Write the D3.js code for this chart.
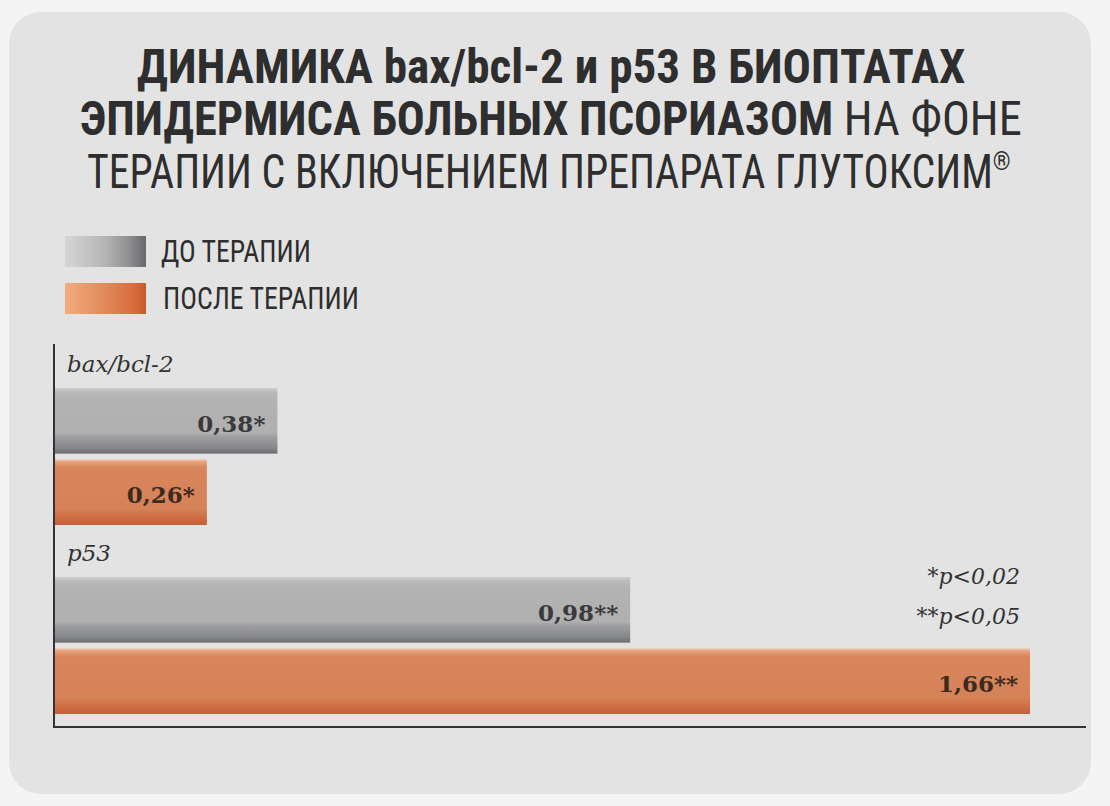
<!DOCTYPE html>
<html><head><meta charset="utf-8">
<script src="https://cdn.jsdelivr.net/npm/d3@7/dist/d3.min.js"></script>
<style>html,body{margin:0;padding:0;background:#f4f4f4;}svg{display:block;}</style>
</head><body>
<svg id="chart" width="1110" height="806"></svg>
<script>
const categories = ["bax/bcl-2", "p53"];
const seriesNames = ["ДО ТЕРАПИИ", "ПОСЛЕ ТЕРАПИИ"];
const beforeValues = [0.38, 0.98];
const afterValues = [0.26, 1.66];
const valueLabels = [["0,38*", "0,26*"], ["0,98**", "1,66**"]];
const footnotes = ["*p<0,02", "**p<0,05"];
const titleLines = [
  [{t:"ДИНАМИКА bax/bcl-2 и p53 В БИОПТАТАХ", b:true}],
  [{t:"ЭПИДЕРМИСА БОЛЬНЫХ ПСОРИАЗОМ", b:true},{t:" НА ФОНЕ", b:false}],
  [{t:"ТЕРАПИИ С ВКЛЮЧЕНИЕМ ПРЕПАРАТА ГЛУТОКСИМ", b:false},{t:"®", b:false, sup:true}]
];

const svg = d3.select("#chart");
const condensed = "'Liberation Sans Narrow','Roboto Condensed','DejaVu Sans Condensed','Liberation Sans',sans-serif";
const serif = "'DejaVu Serif','Liberation Serif',serif";

const defs = svg.append("defs");
function grad(id, stops, vertical) {
  const g = defs.append("linearGradient").attr("id", id)
    .attr("x1", 0).attr("y1", 0).attr("x2", vertical ? 0 : 1).attr("y2", vertical ? 1 : 0);
  stops.forEach(s => g.append("stop").attr("offset", s[0]).attr("stop-color", s[1]));
}
grad("grayBar", [[0,"#cfcfcf"],[0.06,"#bababa"],[0.15,"#b3b3b3"],[0.68,"#b0b0b0"],[0.75,"#9d9da0"],[0.92,"#85868a"],[1,"#6c6d71"]], true);
grad("orangeBar", [[0,"#f0c8b0"],[0.04,"#e8a27c"],[0.12,"#d9865c"],[0.75,"#d68258"],[0.88,"#cf6e44"],[1,"#c65f37"]], true);
grad("grayLeg", [[0,"#d6d6d6"],[0.5,"#b4b4b4"],[0.8,"#8e8e90"],[1,"#67686c"]], false);
grad("orangeLeg", [[0,"#f2ac80"],[0.5,"#e08a5a"],[0.85,"#d86c3c"],[1,"#c85a2c"]], false);

// panel
svg.append("rect").attr("x", 9).attr("y", 12).attr("width", 1082).attr("height", 782)
  .attr("rx", 32).attr("fill", "#e3e3e3");

function fit(sel, x0, x1) {
  const bb = sel.node().getBBox();
  const s = (x1 - x0) / bb.width;
  sel.attr("transform", `translate(${x0},0) scale(${s},1) translate(${-bb.x},0)`);
}

// title
const titleBase = [83, 135, 188];
const titleSpan = [[137, 966], [80, 1022], [87, 1011]];
titleLines.forEach((line, i) => {
  const t = svg.append("text").attr("x", 0).attr("y", titleBase[i])
    .attr("font-family", condensed).attr("font-size", 48).attr("fill", "#2e2e2e");
  line.forEach(p => {
    const ts = t.append("tspan").text(p.t).attr("font-weight", p.b ? "bold" : "normal");
    if (p.sup) ts.attr("font-size", 26).attr("dy", -18);
  });
  fit(t, titleSpan[i][0], titleSpan[i][1]);
});

// legend
const legY = [236, 283];
const legFill = ["url(#grayLeg)", "url(#orangeLeg)"];
const legTextSpan = [[161, 311], [163, 359]];
seriesNames.forEach((n, i) => {
  svg.append("rect").attr("x", 65).attr("y", legY[i]).attr("width", 81).attr("height", 31).attr("fill", legFill[i]);
  const t = svg.append("text").attr("x", 0).attr("y", legY[i] + 26)
    .attr("font-family", condensed).attr("font-size", 32).attr("fill", "#2e2e2e").text(n);
  fit(t, legTextSpan[i][0], legTextSpan[i][1]);
});

// scales
const x = d3.scaleLinear().domain([0, 1.66]).range([54, 1030]);
const y0 = d3.scaleBand().domain(categories).range([336, 714]);
const y1 = d3.scaleBand().domain(seriesNames).range([52, y0.bandwidth()]).paddingInner(0.08);

const data = categories.map((c, i) => ({cat: c, vals: [beforeValues[i], afterValues[i]], labels: valueLabels[i]}));
const barFill = ["url(#grayBar)", "url(#orangeBar)"];
const labelFill = ["#3a3a3c", "#3c2a20"];

const groups = svg.selectAll("g.grp").data(data).enter().append("g")
  .attr("transform", d => `translate(0,${y0(d.cat)})`);

groups.append("text").attr("x", 67).attr("y", 36)
  .attr("font-family", serif).attr("font-style", "italic").attr("font-size", 23).attr("fill", "#333")
  .text(d => d.cat);

groups.each(function(d) {
  const g = d3.select(this);
  seriesNames.forEach((s, j) => {
    g.append("rect").attr("x", x(0)).attr("y", y1(s))
      .attr("width", x(d.vals[j]) - x(0)).attr("height", y1.bandwidth())
      .attr("fill", barFill[j]);
    g.append("text").attr("x", x(d.vals[j]) - 12).attr("y", y1(s) + y1.bandwidth() / 2 + 11)
      .attr("text-anchor", "end").attr("font-family", serif).attr("font-weight", "bold")
      .attr("font-size", 23).attr("fill", labelFill[j]).text(d.labels[j]);
  });
});

// axes
svg.append("line").attr("x1", 54).attr("x2", 54).attr("y1", 344).attr("y2", 728)
  .attr("stroke", "#333").attr("stroke-width", 2);
svg.append("line").attr("x1", 53).attr("x2", 1086).attr("y1", 727).attr("y2", 727)
  .attr("stroke", "#333").attr("stroke-width", 2);

// footnotes
footnotes.forEach((f, i) => {
  svg.append("text").attr("x", 1020).attr("y", 584 + i * 40).attr("text-anchor", "end")
    .attr("font-family", serif).attr("font-style", "italic").attr("font-size", 22).attr("fill", "#333")
    .text(f);
});
</script>
</body></html>
